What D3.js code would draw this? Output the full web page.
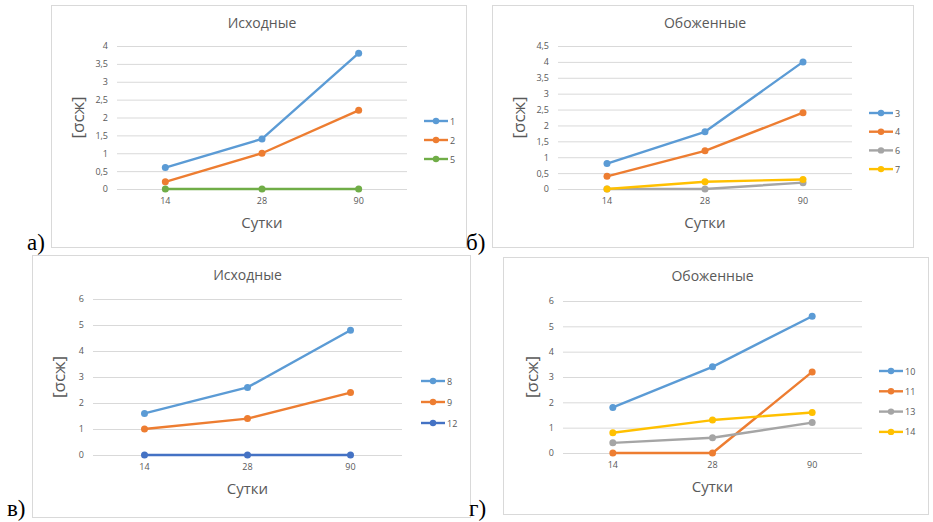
<!DOCTYPE html>
<html>
<head>
<meta charset="utf-8">
<script src="https://cdn.jsdelivr.net/npm/d3@7"></script>
<style>
  body { margin: 0; background: #fff; }
  text { font-family: "Open Sans", "Noto Sans", sans-serif; }
</style>
</head>
<body>
<div id="chart"></div>
<script>
// days on the x axis
var days = ["14", "28", "90"];

// а) Исходные
var s1 = [0.6, 1.4, 3.8];
var s2 = [0.2, 1.0, 2.2];
var s5 = [0, 0, 0];
// б) Обоженные
var s3 = [0.8, 1.8, 4.0];
var s4 = [0.4, 1.2, 2.4];
var s6 = [0, 0, 0.2];
var s7 = [0, 0.23, 0.3];
// в) Исходные
var s8 = [1.6, 2.6, 4.8];
var s9 = [1.0, 1.4, 2.4];
var s12 = [0, 0, 0];
// г) Обоженные
var s10 = [1.8, 3.4, 5.4];
var s11 = [0, 0, 3.2];
var s13 = [0.4, 0.6, 1.2];
var s14 = [0.8, 1.3, 1.6];

var ticksA = [0, 0.5, 1, 1.5, 2, 2.5, 3, 3.5, 4];
var ticksB = [0, 0.5, 1, 1.5, 2, 2.5, 3, 3.5, 4, 4.5];
var ticksCD = [0, 1, 2, 3, 4, 5, 6];

var blue = "#5b9bd5", orange = "#ed7d31", gray = "#a5a5a5",
    gold = "#ffc000", green = "#70ad47", dblue = "#4472c4";

var W = 933, H = 522;

var svg = d3.select("#chart").append("svg")
    .attr("width", W).attr("height", H);
svg.append("rect").attr("width", W).attr("height", H).attr("fill", "#fff");

var fmt = function (d) { return String(d).replace(".", ","); };

var panels = [
    { frame: [51, 5, 415, 242], title: "Исходные", titleY: 28,
      x0: 117, x1: 407, yTop: 46, yBot: 189, ticks: ticksA,
      ylabX: 84, legX: 424, legY: 121, legStep: 19,
      letter: "а)", letX: 27, letY: 250,
      series: [{ n: "1", v: s1, c: blue }, { n: "2", v: s2, c: orange }, { n: "5", v: s5, c: green }] },
    { frame: [492, 5, 421, 242], title: "Обоженные", titleY: 28,
      x0: 558, x1: 852, yTop: 46, yBot: 189, ticks: ticksB,
      ylabX: 525, legX: 869, legY: 113, legStep: 18.7,
      letter: "б)", letX: 466, letY: 250,
      series: [{ n: "3", v: s3, c: blue }, { n: "4", v: s4, c: orange }, { n: "6", v: s6, c: gray }, { n: "7", v: s7, c: gold }] },
    { frame: [32, 255, 438, 262], title: "Исходные", titleY: 280,
      x0: 93, x1: 402, yTop: 299, yBot: 455, ticks: ticksCD,
      ylabX: 65, legX: 421, legY: 381, legStep: 21,
      letter: "в)", letX: 7, letY: 516,
      series: [{ n: "8", v: s8, c: blue }, { n: "9", v: s9, c: orange }, { n: "12", v: s12, c: dblue }] },
    { frame: [503, 257, 425, 257], title: "Обоженные", titleY: 281,
      x0: 563, x1: 862, yTop: 301, yBot: 453, ticks: ticksCD,
      ylabX: 538, legX: 879, legY: 371, legStep: 20.3,
      letter: "г)", letX: 469, letY: 516,
      series: [{ n: "10", v: s10, c: blue }, { n: "11", v: s11, c: orange }, { n: "13", v: s13, c: gray }, { n: "14", v: s14, c: gold }] }
];

panels.forEach(drawPanel);

function drawPanel(p) {
    var g = svg.append("g");
    var f = p.frame;

    g.append("rect")
        .attr("x", f[0] + 0.5).attr("y", f[1] + 0.5)
        .attr("width", f[2]).attr("height", f[3])
        .attr("fill", "#fff").attr("stroke", "#d9d9d9");

    var x = d3.scaleBand().domain(days).range([p.x0, p.x1]);
    var y = d3.scaleLinear()
        .domain([0, p.ticks[p.ticks.length - 1]])
        .range([p.yBot, p.yTop]);

    // gridlines + y labels
    var yAxis = d3.axisLeft(y).tickValues(p.ticks)
        .tickSize(-(p.x1 - p.x0)).tickPadding(9).tickFormat(fmt);
    var ya = g.append("g").attr("transform", "translate(" + p.x0 + ",0)").call(yAxis);
    ya.select(".domain").remove();
    ya.selectAll("line").attr("stroke", "#d9d9d9").attr("stroke-width", 1);
    ya.selectAll("text").attr("fill", "#595959").attr("font-size", 9)
        .style("font-family", "'Open Sans', sans-serif");

    // x labels
    var xAxis = d3.axisBottom(x).tickSize(0).tickPadding(9);
    var xa = g.append("g").attr("transform", "translate(0," + p.yBot + ")").call(xAxis);
    xa.select(".domain").remove();
    xa.selectAll("text").attr("fill", "#595959").attr("font-size", 9)
        .style("font-family", "'Open Sans', sans-serif");

    var cx = function (d, i) { return x(days[i]) + x.bandwidth() / 2; };

    var line = d3.line().x(cx).y(function (d) { return y(d); });

    p.series.forEach(function (s) {
        g.append("path").datum(s.v)
            .attr("d", line).attr("fill", "none")
            .attr("stroke", s.c).attr("stroke-width", 2.4)
            .attr("stroke-linejoin", "round");
        g.selectAll(null).data(s.v).enter().append("circle")
            .attr("cx", cx).attr("cy", function (d) { return y(d); })
            .attr("r", 3.5).attr("fill", s.c);
    });

    // legend
    p.series.forEach(function (s, i) {
        var ly = p.legY + i * p.legStep;
        g.append("line")
            .attr("x1", p.legX).attr("x2", p.legX + 24)
            .attr("y1", ly).attr("y2", ly)
            .attr("stroke", s.c).attr("stroke-width", 2.4);
        g.append("circle").attr("cx", p.legX + 12).attr("cy", ly).attr("r", 3.2).attr("fill", s.c);
        g.append("text").attr("x", p.legX + 26).attr("y", ly + 3.5)
            .attr("font-size", 9).attr("fill", "#595959").text(s.n);
    });

    var midX = p.x0 + (p.x1 - p.x0) / 2;
    g.append("text").attr("x", midX).attr("y", p.titleY)
        .attr("text-anchor", "middle").attr("font-size", 14)
        .attr("fill", "#595959").text(p.title);

    g.append("text").attr("x", midX).attr("y", p.yBot + 39)
        .attr("text-anchor", "middle").attr("font-size", 15)
        .attr("fill", "#595959").text("Сутки");

    var midY = (p.yTop + p.yBot) / 2;
    g.append("text")
        .attr("transform", "translate(" + p.ylabX + "," + midY + ") rotate(-90)")
        .attr("text-anchor", "middle").attr("font-size", 17)
        .attr("fill", "#595959").text("[σсж]");

    svg.append("text").attr("x", p.letX).attr("y", p.letY)
        .style("font-family", "'Liberation Serif', 'Times New Roman', serif")
        .attr("font-size", 23).attr("fill", "#000").text(p.letter);
}
</script>
</body>
</html>
